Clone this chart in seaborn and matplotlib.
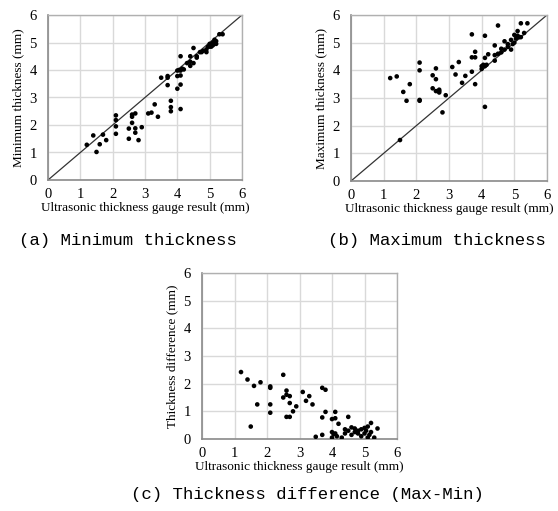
import matplotlib
matplotlib.use("Agg")
import matplotlib.pyplot as plt
import seaborn as sns
import pandas as pd

# ---- data ----
x_min = [1.2, 1.4, 1.5, 1.6, 1.7, 1.8,
         2.1, 2.1, 2.1, 2.1,
         2.5, 2.5, 2.6, 2.6, 2.6, 2.7, 2.7, 2.7, 2.8, 2.9,
         3.1, 3.2, 3.3, 3.4,
         3.5, 3.7, 3.7, 3.7, 3.8, 3.8, 3.8,
         4.0, 4.0, 4.0, 4.05, 4.1, 4.1, 4.1, 4.1, 4.1, 4.15, 4.2,
         4.3, 4.4, 4.4, 4.4, 4.5, 4.5, 4.6, 4.6,
         4.7, 4.75, 4.8, 4.9, 4.9, 4.95, 5.0, 5.0, 5.05, 5.1, 5.1, 5.15, 5.2, 5.2, 5.3, 5.4]
y_min = [1.28, 1.62, 1.02, 1.3, 1.65, 1.45,
         2.35, 2.18, 1.95, 1.68,
         1.87, 1.5, 2.38, 2.3, 2.08, 2.42, 1.88, 1.72, 1.45, 1.92,
         2.42, 2.45, 2.75, 2.3,
         3.72, 3.78, 3.72, 3.45, 2.88, 2.65, 2.5,
         3.98, 3.78, 3.32, 4.0, 4.5, 3.98, 3.8, 3.47, 2.58, 4.05, 4.02,
         4.25, 4.5, 4.3, 4.15, 4.8, 4.25, 4.45, 4.5,
         4.65, 4.65, 4.7, 4.65, 4.75, 4.85, 4.85, 4.95, 4.85, 5.0, 4.9, 5.1, 5.05, 4.95, 5.3, 5.3]

x_max = [1.2, 1.4, 1.5, 1.6, 1.7, 1.8,
         2.1, 2.1, 2.1, 2.1,
         2.5, 2.5, 2.6, 2.6, 2.6, 2.7, 2.7, 2.7, 2.8, 2.9,
         3.1, 3.2, 3.3, 3.4, 3.5,
         3.7, 3.7, 3.7, 3.8, 3.8, 3.8,
         4.0, 4.0, 4.05, 4.1, 4.1, 4.1, 4.1, 4.15, 4.2,
         4.4, 4.4, 4.4, 4.5, 4.5, 4.6, 4.6, 4.7, 4.7, 4.8, 4.8, 4.9, 4.9, 4.95,
         5.0, 5.0, 5.05, 5.1, 5.1, 5.15, 5.2, 5.2, 5.3, 5.4]
y_max = [3.72, 3.78, 1.48, 3.22, 2.9, 3.5,
         4.28, 4.0, 2.93, 2.9,
         3.82, 3.35, 4.07, 3.68, 3.25, 3.25, 3.2, 3.3, 2.48, 3.1,
         4.12, 3.85, 4.3, 3.55, 3.8,
         5.3, 4.47, 3.95, 4.67, 4.47, 3.5,
         4.15, 4.05, 4.2, 5.25, 4.45, 4.15, 2.68, 4.2, 4.58,
         4.9, 4.55, 4.35, 5.62, 4.6, 4.65, 4.78, 5.05, 4.75, 4.85, 4.95, 5.1, 4.75, 4.95,
         5.28, 5.0, 5.15, 5.42, 5.25, 5.2, 5.7, 5.2, 5.35, 5.7]

x_diff = [1.2, 1.4, 1.5, 1.6, 1.7, 1.8,
          2.1, 2.1, 2.1, 2.1,
          2.5, 2.5, 2.6, 2.6, 2.6, 2.7, 2.7, 2.7, 2.8, 2.9,
          3.1, 3.2, 3.3, 3.4,
          3.5, 3.7, 3.7, 3.7, 3.8, 3.8,
          4.0, 4.0, 4.0, 4.05, 4.1, 4.1, 4.1, 4.15, 4.2,
          4.3, 4.4, 4.4, 4.5, 4.5, 4.6, 4.6, 4.7, 4.7, 4.8, 4.8, 4.9, 4.9,
          5.0, 5.0, 5.05, 5.1, 5.1, 5.15, 5.2, 5.2, 5.3, 5.4]
y_diff = [2.42, 2.15, 0.45, 1.92, 1.25, 2.05,
          1.9, 1.85, 1.25, 0.95,
          2.32, 1.5, 1.75, 1.6, 0.8, 1.55, 1.3, 0.8, 1.0, 1.18,
          1.7, 1.38, 1.55, 1.25,
          0.08, 1.85, 0.78, 0.15, 1.78, 0.98,
          0.72, 0.25, 0.05, 0.18, 0.98, 0.75, 0.2, 0.1, 0.55,
          0.05, 0.35, 0.2, 0.8, 0.3, 0.42, 0.15, 0.25, 0.38, 0.2, 0.3, 0.35, 0.1,
          0.4, 0.2, 0.3, 0.45, 0.05, 0.15, 0.58, 0.25, 0.05, 0.38]

diag = [0, 6]
ticks = [0, 1, 2, 3, 4, 5, 6]

x_label = "Ultrasonic thickness gauge result (mm)"
y_labels = ["Minimum thickness (mm)", "Maximum thickness (mm)", "Thickness difference (mm)"]
captions = ["(a) Minimum thickness", "(b) Maximum thickness", "(c) Thickness difference (Max-Min)"]

sns.set_theme(style="white")
plt.rcParams["font.family"] = ["Liberation Serif", "DejaVu Serif"]

fig = plt.figure(figsize=(5.58, 5.11), dpi=100)

W, H = 558, 511
def add_axes(l, r, t, b):
    return fig.add_axes([l / W, (H - b) / H, (r - l) / W, (b - t) / H])

ax_a = add_axes(48, 242, 15, 180)
ax_b = add_axes(351, 547, 15, 181)
ax_c = add_axes(202, 397, 273, 439)

panels = [
    (ax_a, x_min, y_min, True),
    (ax_b, x_max, y_max, True),
    (ax_c, x_diff, y_diff, False),
]

for i, (ax, xs, ys, has_diag) in enumerate(panels):
    df = pd.DataFrame({"x": xs, "y": ys})
    ax.set_xlim(0, 6)
    ax.set_ylim(0, 6)
    ax.set_xticks(ticks)
    ax.set_yticks(ticks)
    ax.grid(True, color="#d9d9d9", linewidth=1.0)
    ax.set_axisbelow(True)
    if has_diag:
        sns.lineplot(x=diag, y=diag, ax=ax, color="#333333", linewidth=0.9)
    sns.scatterplot(data=df, x="x", y="y", ax=ax, color="black", s=11,
                    edgecolor="none", zorder=3)
    for side in ["top", "right"]:
        ax.spines[side].set_visible(True)
        ax.spines[side].set_color("#b0b0b0")
        ax.spines[side].set_linewidth(1.0)
    for side in ["left", "bottom"]:
        ax.spines[side].set_color("#8a8a8a")
        ax.spines[side].set_linewidth(1.2)
    ax.tick_params(axis="x", length=0, labelsize=10.5, pad=5.5, colors="black")
    ax.tick_params(axis="y", length=0, labelsize=10.5, pad=8, colors="black")
    ax.set_xlabel(x_label, fontsize=9.5, labelpad=1, color="black")
    ax.set_ylabel(y_labels[i], fontsize=9.5, labelpad=4, color="black")

mono = ["Liberation Mono", "DejaVu Sans Mono"]
fig.text(128 / W, 1 - 240 / H, captions[0], ha="center", va="center",
         fontsize=12.5, family=mono, color="black")
fig.text(437 / W, 1 - 240 / H, captions[1], ha="center", va="center",
         fontsize=12.5, family=mono, color="black")
fig.text(307 / W, 1 - 494 / H, captions[2], ha="center", va="center",
         fontsize=12.5, family=mono, color="black")

fig.savefig("out.png", dpi=100, facecolor="white")
